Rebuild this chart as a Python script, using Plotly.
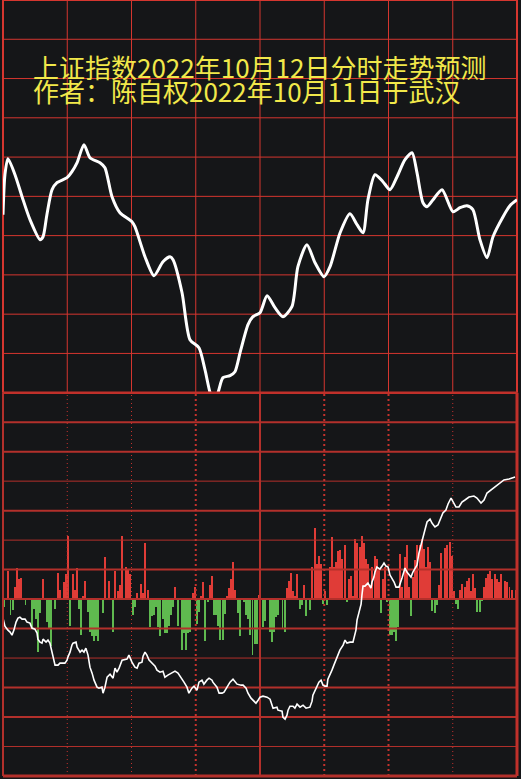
import plotly.graph_objects as go

# ---------------- data ----------------
title_lines = ["上证指数2022年10月12日分时走势预测", "作者：陈自权2022年10月11日于武汉"]

# forecast curve (upper panel): minute of session, level (arbitrary units)
fc_minute = [0, 0.9, 2.3, 5.6, 8.9, 12.6, 17.3, 18.7, 20.5, 22.9, 25.2, 29.9, 32.2, 34.6, 37.8,
             40.6, 45.3, 47.6, 50.9, 54.6, 60.2, 61.6, 66.3, 70.5, 74.7, 78.0, 79.4, 83.6, 87.3,
             91.5, 94.3, 96.7, 98.5, 100.4, 102.7, 106.0, 108.3, 110.7, 114.4, 116.7, 120.0,
             123.3, 127.0, 130.7, 134.9, 137.7, 141.9, 145.7, 149.9, 152.7, 157.4, 162.0, 165.3,
             168.1, 170.4, 173.7, 177.4, 180.7, 184.0, 187.7, 191.0, 193.3, 196.1, 198.0, 200.8,
             205.0, 210.1, 213.4, 216.6, 219.4, 222.7, 226.0, 228.8, 233.5, 236.7, 240.0]
fc_level = [178, 218, 234, 218, 196, 173, 153, 156, 178, 203, 210, 215, 221, 230, 248,
            235, 230, 225, 196, 180, 171, 166, 136, 117, 131, 136, 133, 100, 53,
            45, 23, 0, -9, 0, 15, 17, 21, 40, 68, 76, 80,
            97, 85, 76, 86, 126, 148, 130, 116, 126, 160, 179, 168,
            160, 193, 218, 211, 203, 216, 233, 240, 220, 190, 186, 193,
            203, 181, 185, 187, 183, 153, 135, 156, 176, 187, 193]

# per-minute flow bars (lower panel), positive = red, negative = green
flow = [
    -8, 0, 28, -16, -11, 12, 31, 20, 21, 0, -6, 0, 0, -30, -10, -20, -53, -14, 20, 0,
    -23, -30, -47, 0, -10, 26, 9, 0, 17, 25, 63, -27, 25, 9, 31, -10, -36, 3, 18, -13,
    -33, -37, -42, -37, -42, 0, -14, 42, 0, 18, 0, -33, 28, 8, 14, 63, 0, 32, 29, 25,
    -16, -8, 6, 0, 15, 6, 56, 9, -28, -17, -16, -8, -28, -37, -20, -34, -34, -27, -16, -8,
    12, -27, 0, -51, -34, -51, -34, -33, 6, 12, -25, -13, 3, 17, -42, -3, 14, 23, -16, -16,
    -27, -41, -41, -15, 3, 11, 20, 37, 9, -14, -37, 0, -3, -16, -20, -36, -56, -45, -45, 4,
    0, -28, -22, 0, -33, -43, -33, -18, -16, 0, -30, -33, 11, 18, 26, 8, 3, 25, -10, -6,
    14, -17, 0, -11, 32, 71, 35, 43, 35, -5, 8, -6, 32, 62, 32, 37, 48, 49, 40, 54,
    -3, 20, 23, 3, 60, 56, 52, 63, 56, 40, 35, 14, 32, 43, 40, 30, -14, 20, 32, -3,
    -36, -36, -33, -42, -28, 45, 12, 42, 54, 12, -17, 22, 39, 54, 54, 60, 50, 32, 52, 37,
    -12, -14, -6, 14, 46, 0, 51, 54, 57, 43, 8, -5, -10, 9, 15, 12, 18, 21, 8, 25,
    11, -13, -13, -2, 12, 21, 25, 28, 20, 25, 20, 17, 25, 0, 18, 17, 12, 9, 0, 9,
]

# real-time line (lower panel): minute, level
rt_minute = [0, 0.9, 2.3, 3.3, 4.2, 5.1, 6.1, 7.0, 7.9, 8.9,
             10.3, 11.2, 12.6, 13.5, 14.9, 15.9, 16.3, 17.3, 18.2, 18.7,
             20.1, 21.0, 21.9, 23.3, 24.3, 25.7, 26.6, 28.9, 29.9, 30.3,
             31.3, 32.2, 32.7, 34.1, 34.6, 36.0, 36.9, 37.8, 38.7, 39.7,
             40.6, 41.6, 42.5, 43.9, 44.8, 46.2, 46.7, 47.6, 48.6, 50.0,
             51.4, 52.3, 53.2, 54.2, 55.6, 57.9, 58.8, 60.2, 61.6, 62.6,
             63.5, 64.9, 65.4, 66.3, 67.2, 68.2, 69.6, 71.0, 71.9, 73.3,
             74.7, 75.6, 77.0, 78.9, 80.3, 81.7, 83.1, 84.5, 85.9, 86.8,
             88.2, 89.2, 90.6, 91.5, 92.9, 93.8, 95.2, 96.2, 97.6, 98.0,
             99.9, 100.9, 102.3, 103.2, 104.6, 106.0, 107.4, 108.3, 109.3, 111.2,
             112.1, 113.5, 114.4, 115.8, 116.7, 118.1, 119.1, 120.0, 121.4, 123.3,
             124.7, 125.6, 126.1, 127.9, 128.4, 130.3, 130.7, 131.7, 132.6, 133.1,
             134.0, 135.4, 136.3, 137.3, 138.7, 140.1, 141.5, 143.3, 144.3, 144.7,
             145.7, 146.6, 147.5, 148.5, 149.4, 150.3, 151.3, 151.7, 152.7, 153.6,
             154.5, 155.5, 156.4, 157.3, 158.8, 159.7, 160.6, 162.0, 163.4, 163.9,
             164.8, 165.3, 166.2, 167.2, 167.6, 168.1, 169.0, 170.4, 171.8, 172.3,
             173.2, 173.7, 174.6, 176.0, 177.0, 177.9, 178.8, 179.8, 180.7, 181.6,
             182.6, 183.5, 184.9, 186.3, 187.7, 188.6, 190.5, 191.4, 193.3, 194.2,
             195.6, 197.0, 198.0, 199.4, 200.3, 201.7, 203.1, 204.5, 205.4, 206.8,
             207.8, 209.2, 210.1, 211.5, 212.9, 214.3, 215.7, 217.6, 219.9, 221.3,
             223.2, 224.6, 226.0, 227.8, 229.7, 231.6, 233.9, 236.3, 239.1]
rt_level = [-19, -27, -31, -33, -36, -31, -23, -19, -18, -20,
            -20, -23, -24, -29, -30, -34, -40, -43, -44, -40,
            -43, -41, -44, -56, -66, -66, -64, -64, -61, -58,
            -53, -46, -44, -43, -48, -53, -51, -53, -49, -56,
            -68, -74, -81, -88, -89, -88, -94, -88, -78, -75,
            -79, -69, -73, -69, -61, -60, -56, -63, -68, -69,
            -64, -63, -57, -53, -56, -61, -64, -67, -71, -73,
            -72, -78, -76, -74, -72, -74, -78, -83, -88, -94,
            -89, -87, -91, -83, -81, -85, -81, -79, -81, -83,
            -88, -94, -94, -93, -88, -83, -80, -82, -85, -86,
            -86, -89, -94, -99, -101, -104, -101, -98, -97, -98,
            -100, -106, -109, -108, -111, -112, -118, -120, -116, -111,
            -107, -107, -109, -105, -108, -106, -109, -108, -102, -96,
            -91, -86, -83, -81, -86, -87, -87, -80, -76, -71,
            -66, -61, -56, -51, -46, -41, -44, -43, -43, -39,
            -31, -21, -13, -5, 4, 13, 13, 16, 11, 17,
            22, 27, 32, 30, 33, 36, 33, 32, 24, 21,
            17, 12, 12, 21, 31, 27, 22, 27, 34, 46,
            59, 69, 77, 80, 76, 72, 74, 82, 86, 89,
            95, 101, 97, 92, 92, 97, 99, 102, 103, 101,
            96, 99, 106, 109, 112, 116, 119, 120, 122]

# ---------------- style / layout ----------------
W, H = 521, 779
ML, MR, MT, MB = 3, 4, 0, 3
plot_h = H - MT - MB
plot_w = W - ML - MR
split = 1 - 392.7 / plot_h
SESSION = 240
TOP_RANGE = [0, 392.7]
STEP = 29.46
BOT_RANGE = [-6 * STEP, 7 * STEP]

BG = '#151618'
RED_TOP = '#d5362f'
RED_BOT = '#b3302b'
RED_DOT = '#c4322c'
BAR_UP = '#e03c37'
BAR_DN = '#5fb94f'
YELLOW = '#f1e84a'

fig = go.Figure()

# upper forecast curve
fig.add_trace(go.Scatter(x=fc_minute, y=fc_level, mode='lines',
                         line=dict(color='white', width=3, shape='spline', smoothing=0.7),
                         xaxis='x', yaxis='y', hoverinfo='skip', showlegend=False))

# flow bars
bar_x = [i + 0.5 for i in range(len(flow))]
fig.add_trace(go.Bar(x=bar_x, y=flow, width=0.92,
                     marker=dict(color=[BAR_UP if v > 0 else BAR_DN for v in flow], line=dict(width=0)),
                     xaxis='x2', yaxis='y2', hoverinfo='skip', showlegend=False))


def hl(ks):
    xs, ys = [], []
    for k in ks:
        xs += [0, SESSION, None]
        ys += [k * STEP, k * STEP, None]
    return xs, ys


def vl(ms):
    xs, ys = [], []
    for m in ms:
        xs += [m, m, None]
        ys += [BOT_RANGE[0], BOT_RANGE[1], None]
    return xs, ys


grid_specs = [
    (hl([6, 5, 3, 1, 0, -1, -3, -4]), dict(color=RED_BOT, width=2)),
    (hl([4, 2, -2, -5]), dict(color=RED_BOT, width=1)),
    (vl([30, 60, 210]), dict(color=RED_DOT, width=1, dash='1px,3px')),
    (vl([90, 150, 180]), dict(color=RED_DOT, width=2, dash='2px,3px')),
    (vl([120]), dict(color=RED_BOT, width=2)),
]
for (xs, ys), ln in grid_specs:
    fig.add_trace(go.Scatter(x=xs, y=ys, mode='lines', line=ln, xaxis='x2', yaxis='y2',
                             hoverinfo='skip', showlegend=False, connectgaps=False))

# real-time line
fig.add_trace(go.Scatter(x=rt_minute, y=rt_level, mode='lines',
                         line=dict(color='white', width=1.6),
                         xaxis='x2', yaxis='y2', hoverinfo='skip', showlegend=False))

shapes = []
# upper grid
for k in range(9):
    shapes.append(dict(type='line', xref='paper', yref='paper', x0=k / 8, x1=k / 8, y0=split, y1=1,
                       line=dict(color=RED_TOP, width=2 if k in (0, 8) else 1), layer='below'))
for j in range(11):
    yy = split + j / 10 * (1 - split)
    shapes.append(dict(type='line', xref='paper', yref='paper', x0=0, x1=1, y0=yy, y1=yy,
                       line=dict(color=RED_TOP, width=2 if j == 10 else 1), layer='below'))
# lower panel borders
shapes += [
    dict(type='line', xref='paper', yref='paper', x0=0, x1=0, y0=0, y1=split,
         line=dict(color=RED_BOT, width=2), layer='above'),
    dict(type='line', xref='paper', yref='paper', x0=1, x1=1, y0=0, y1=split,
         line=dict(color='#c0302a', width=3), layer='above'),
    dict(type='line', xref='paper', yref='paper', x0=0, x1=1, y0=0, y1=0,
         line=dict(color=RED_BOT, width=3), layer='above'),
    dict(type='line', xref='paper', yref='paper', x0=0, x1=1, y0=split, y1=split,
         line=dict(color='#c0302a', width=2.5), layer='above'),
]

annotations = []
for i, txt in enumerate(title_lines):
    annotations.append(dict(text=txt, xref='paper', yref='paper',
                            x=29 / plot_w, y=1 - (66 + 24 * i) / plot_h,
                            xanchor='left', yanchor='middle', showarrow=False, borderpad=0,
                            font=dict(family='Noto Sans CJK SC', size=26, color=YELLOW)))

fig.update_layout(
    width=W, height=H,
    margin=dict(l=ML, r=MR, t=MT, b=MB, pad=0),
    paper_bgcolor=BG, plot_bgcolor=BG,
    showlegend=False, bargap=0,
    xaxis=dict(domain=[0, 1], range=[0, SESSION], visible=False, anchor='y'),
    yaxis=dict(domain=[split, 1], range=TOP_RANGE, visible=False, anchor='x'),
    xaxis2=dict(domain=[0, 1], range=[0, SESSION], visible=False, anchor='y2'),
    yaxis2=dict(domain=[0, split], range=BOT_RANGE, visible=False, anchor='x2'),
    shapes=shapes,
    annotations=annotations,
)

fig.write_html("out.html",
               config={'displayModeBar': False, 'staticPlot': True},
               post_script="document.body.style.margin='0';document.body.style.background='#151618';")
